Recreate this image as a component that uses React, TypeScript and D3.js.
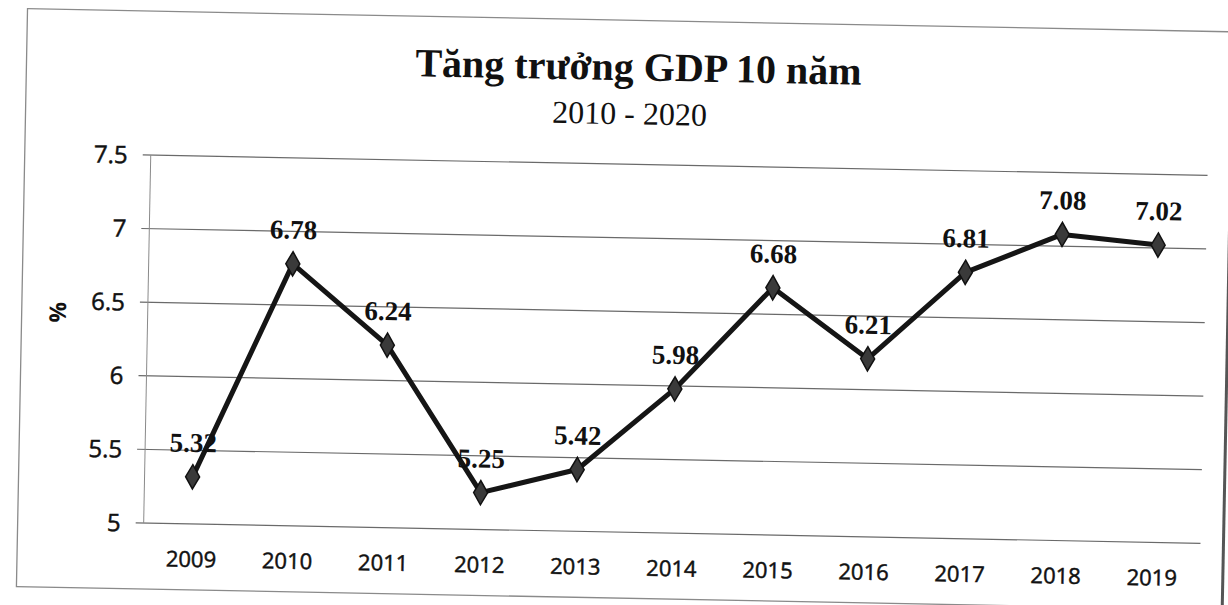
import React from "react";
import * as d3 from "d3";

const years = ["2009", "2010", "2011", "2012", "2013", "2014", "2015", "2016", "2017", "2018", "2019"];
const gdpGrowth = [5.32, 6.78, 6.24, 5.25, 5.42, 5.98, 6.68, 6.21, 6.81, 7.08, 7.02];
const yTicks = [5, 5.5, 6, 6.5, 7, 7.5];
const title = "Tăng trưởng GDP 10 năm";
const subtitle = "2010 - 2020";
const yAxisTitle = "%";

const W = 1228;
const H = 605;
const plot = { left: 148, right: 1205, top: 164, bottom: 532 };

export default function App() {
  const x = d3.scaleBand<string>().domain(years).range([plot.left, plot.right]);
  const y = d3.scaleLinear().domain([5, 7.5]).range([plot.bottom, plot.top]);
  const cx = (d: string) => (x(d) as number) + x.bandwidth() / 2;
  const pts: [number, number][] = years.map((yr, i) => [cx(yr), y(gdpGrowth[i])]);
  const line = d3.line<[number, number]>()(pts) as string;
  const diamond = d3.symbol(d3.symbolDiamond, 170)() as string;

  return (
    <svg
      width={W}
      height={H}
      style={{ position: "absolute", left: 0, top: 0, background: "#fff" }}
    >
      <g transform="rotate(1.1 614 302)">
        {/* outer frame */}
        <rect x={22} y={20} width={1206} height={578} fill="none" stroke="#8a8a8a" strokeWidth={1.3} />
        <line x1={1228} y1={20} x2={1228} y2={598} stroke="#555" strokeWidth={3} />

        {/* title */}
        <text
          x={634}
          y={80}
          textAnchor="middle"
          fontFamily="'Liberation Serif', 'Times New Roman', serif"
          fontWeight="bold"
          fontSize={40}
          fill="#111"
        >
          {title}
        </text>
        <text
          x={626}
          y={124}
          textAnchor="middle"
          fontFamily="'Liberation Serif', 'Times New Roman', serif"
          fontSize={32}
          fill="#111"
        >
          {subtitle}
        </text>

        {/* gridlines + y ticks */}
        {yTicks.map((t) => (
          <g key={t}>
            <line x1={plot.left - 8} x2={plot.right} y1={y(t)} y2={y(t)} stroke="#6a6a6a" strokeWidth={1.2} />
            <text
              x={125}
              y={y(t)}
              dy="0.36em"
              textAnchor="end"
              fontFamily="'Open Sans', sans-serif"
              fontSize={24}
              fill="#111"
              stroke="#111"
              strokeWidth={0.5}
            >
              {String(t)}
            </text>
          </g>
        ))}
        <line x1={plot.left} x2={plot.left} y1={plot.top} y2={plot.bottom} stroke="#8a8a8a" strokeWidth={1} />

        {/* y axis title */}
        <text
          transform={`translate(${58},${323}) rotate(-90)`}
          textAnchor="middle"
          dy="0.36em"
          fontFamily="'Open Sans', sans-serif"
          fontWeight="bold"
          fontSize={23}
          fill="#111"
        >
          {yAxisTitle}
        </text>

        {/* x labels */}
        {years.map((yr) => (
          <text
            key={yr}
            x={cx(yr)}
            y={575}
            textAnchor="middle"
            fontFamily="'Open Sans', sans-serif"
            fontSize={22}
            fill="#111"
            stroke="#111"
            strokeWidth={0.5}
          >
            {yr}
          </text>
        ))}

        {/* line */}
        <path d={line} fill="none" stroke="#151515" strokeWidth={5} strokeLinejoin="round" />

        {/* markers */}
        {pts.map(([px, py], i) => (
          <path
            key={years[i]}
            d={diamond}
            transform={`translate(${px},${py})`}
            fill="#3a3a3a"
            stroke="#111"
            strokeWidth={1.5}
          />
        ))}

        {/* data labels */}
        {pts.map(([px, py], i) => (
          <text
            key={"l" + years[i]}
            x={px}
            y={py - 25}
            textAnchor="middle"
            fontFamily="'Liberation Serif', 'Times New Roman', serif"
            fontWeight="bold"
            fontSize={27}
            fill="#111"
          >
            {gdpGrowth[i].toFixed(2)}
          </text>
        ))}
      </g>
    </svg>
  );
}
